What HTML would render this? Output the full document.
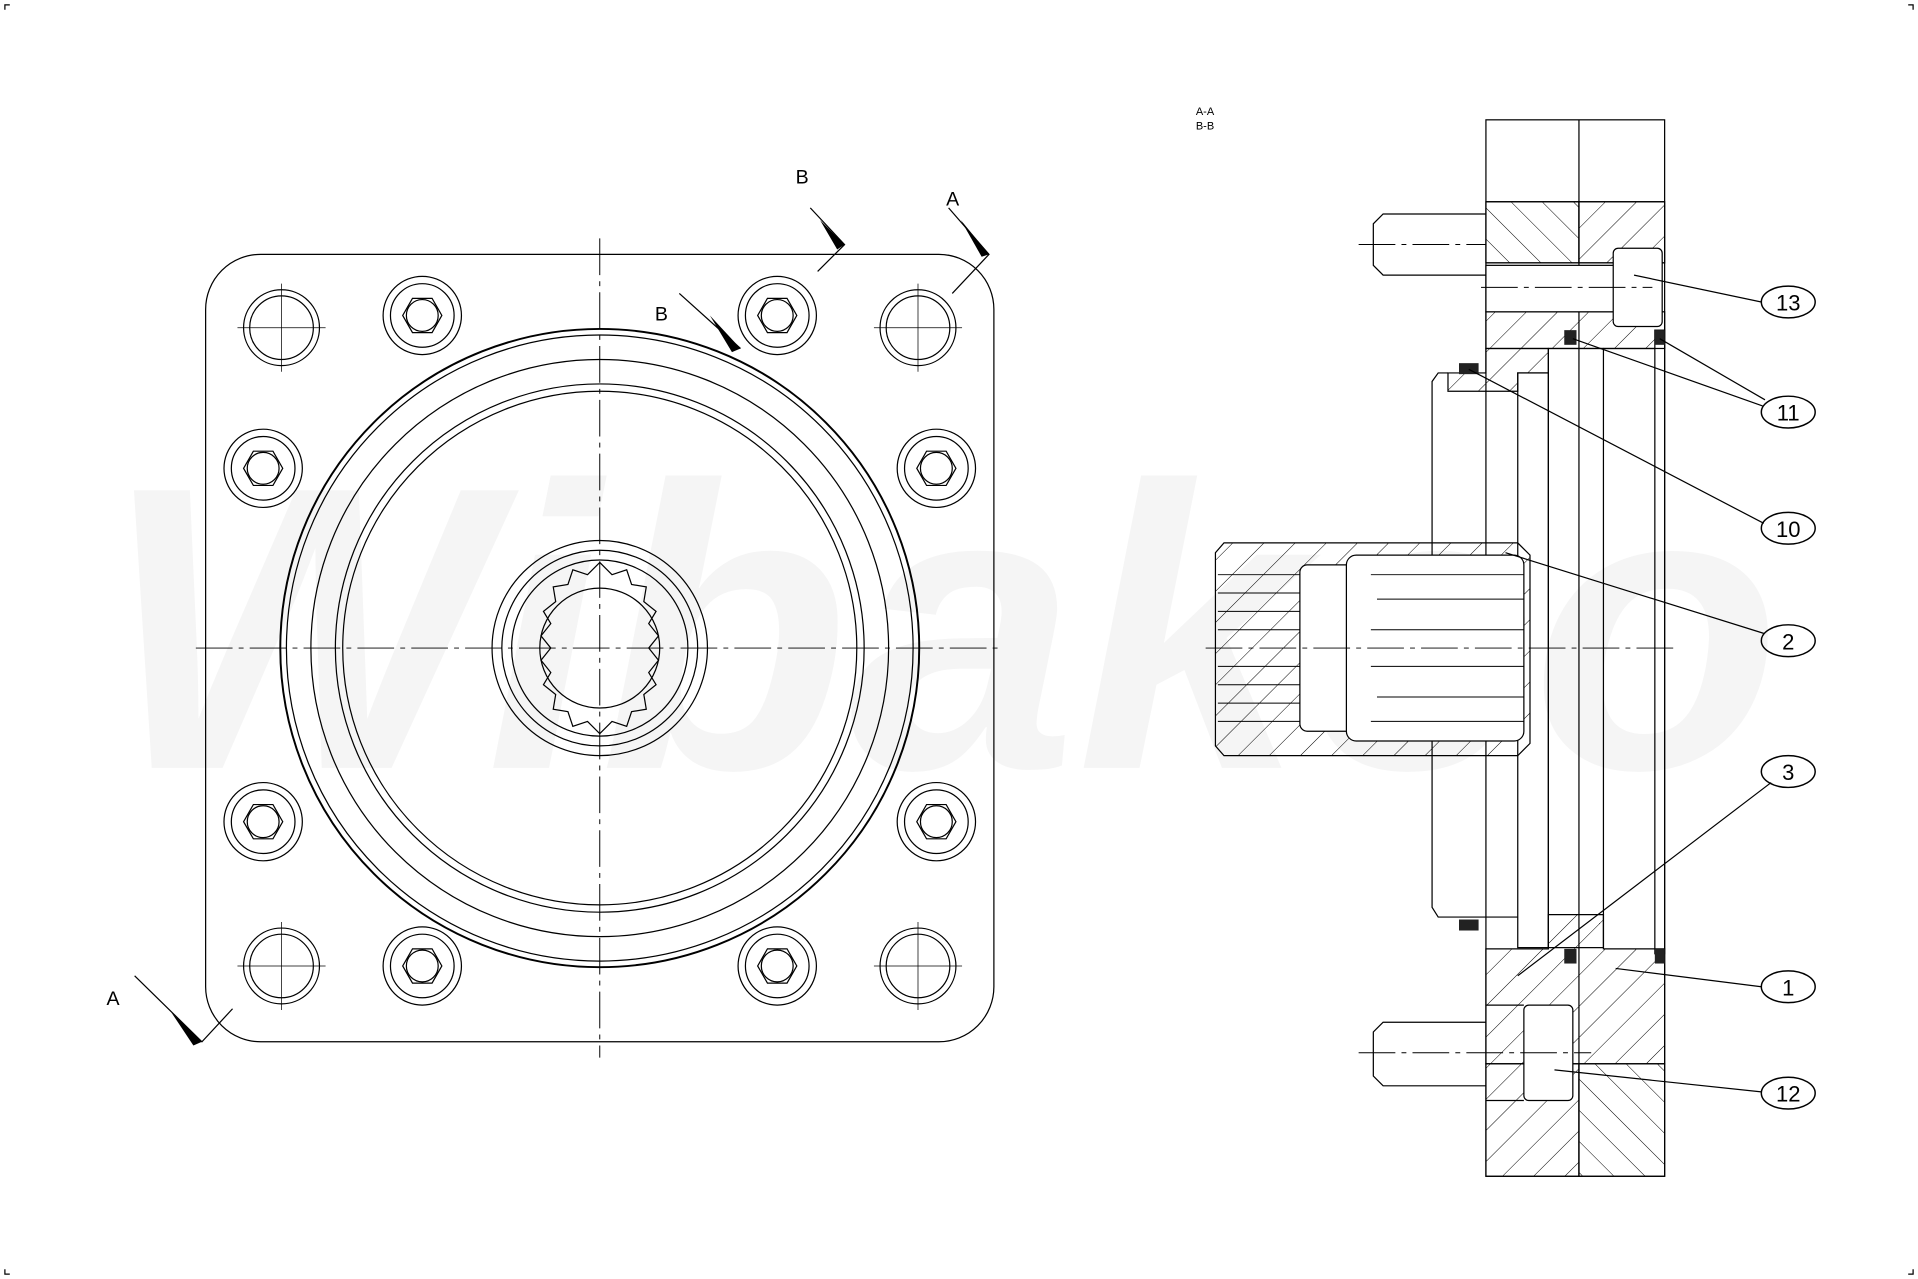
<!DOCTYPE html>
<html><head><meta charset="utf-8"><style>html,body{margin:0;padding:0;background:#fff}svg{display:block}</style></head>
<body>
<svg width="1918" height="1279" viewBox="0 0 1567 1046" preserveAspectRatio="none" xmlns="http://www.w3.org/2000/svg" font-family="Liberation Sans, sans-serif">
<defs>
<pattern id="h1" width="18" height="18" patternUnits="userSpaceOnUse" patternTransform="rotate(45)"><line x1="0" y1="0" x2="0" y2="18" stroke="#000" stroke-width="0.8"/></pattern>
<pattern id="h2" width="18" height="18" patternUnits="userSpaceOnUse" patternTransform="rotate(-45)"><line x1="0" y1="0" x2="0" y2="18" stroke="#000" stroke-width="0.8"/></pattern>
<g id="bolt"><circle r="32" fill="none" stroke="#000"/><circle r="26" fill="none" stroke="#000"/><polygon points="16,0 8,14 -8,14 -16,0 -8,-14 8,-14" fill="none" stroke="#000"/><circle r="13" fill="none" stroke="#000"/></g>
<g id="hole"><circle r="31" fill="none" stroke="#000"/><circle r="26" fill="none" stroke="#000"/><line x1="-36" y1="0" x2="36" y2="0" stroke="#000" stroke-width="0.6"/><line x1="0" y1="-36" x2="0" y2="36" stroke="#000" stroke-width="0.6"/></g>
</defs>
<rect width="1567" height="1046" fill="#fff"/>
<!-- watermark -->
<text x="85" y="628" font-size="330" font-weight="bold" font-style="italic" fill="#f5f5f5" textLength="1370" lengthAdjust="spacingAndGlyphs">Wibakco</text>
<!-- corner marks -->
<path d="M4 8V4h4M1563 8V4h-4M4 1038v4h4M1563 1038v4h-4" stroke="#000" fill="none"/>
<g stroke="#000" fill="none" stroke-width="1">
<rect x="168" y="208" width="644" height="644" rx="45"/>
<circle cx="490" cy="530" r="261" stroke-width="1.6"/>
<circle cx="490" cy="530" r="256"/>
<circle cx="490" cy="530" r="236"/>
<circle cx="490" cy="530" r="216"/>
<circle cx="490" cy="530" r="210"/>
<circle cx="490" cy="530" r="88"/>
<circle cx="490" cy="530" r="80"/>
<circle cx="490" cy="530" r="72"/>
<circle cx="490" cy="530" r="49"/>
<polygon points="490,460 500,470 512,466 516,478 528,480 526,492 536,500 530,510 538,520 530,530 538,540 530,550 536,560 526,568 528,580 516,582 512,594 500,590 490,600 480,590 468,594 464,582 452,580 454,568 444,560 450,550 442,540 450,530 442,520 450,510 444,500 454,492 452,480 464,478 468,466 480,470"/>
<g stroke-dasharray="30 5 4 5" stroke-width="0.8"><line x1="160" y1="530" x2="820" y2="530"/><line x1="490" y1="195" x2="490" y2="865"/></g>
</g>
<use href="#hole" x="230" y="268"/><use href="#bolt" x="345" y="258"/><use href="#bolt" x="635" y="258"/><use href="#hole" x="750" y="268"/>
<use href="#bolt" x="215" y="383"/><use href="#bolt" x="765" y="383"/><use href="#bolt" x="215" y="672"/><use href="#bolt" x="765" y="672"/>
<use href="#hole" x="230" y="790"/><use href="#bolt" x="345" y="790"/><use href="#bolt" x="635" y="790"/><use href="#hole" x="750" y="790"/>
<g stroke="#000" fill="none">
<path d="M662 170 L690 200 L668 222"/><path d="M775 170 L808 208 L778 240"/><path d="M555 240 L605 285"/><path d="M110 798 L165 852 L190 825"/>
</g>
<g fill="#000"><polygon points="670,180 690,200 684,204"/><polygon points="785,180 808,208 802,210"/><polygon points="580,258 605,285 598,288"/><polygon points="140,828 165,852 158,855"/></g>
<g font-size="16" fill="#000"><text x="650" y="150">B</text><text x="773" y="168">A</text><text x="535" y="262">B</text><text x="87" y="822">A</text>
<text x="977" y="94" font-size="9">A-A</text><text x="977" y="106" font-size="9">B-B</text></g>
<g stroke="#000" fill="none">
<rect x="1214" y="165" width="76" height="50" fill="url(#h2)"/>
<rect x="1290" y="165" width="70" height="50" fill="url(#h1)"/>
<rect x="1214" y="255" width="146" height="30" fill="url(#h1)"/>
<path d="M1214 285 H1265 V305 H1240 V320 H1183 V305 H1214Z" fill="url(#h1)"/>
<path d="M1214 776 H1265 V748 H1310 V776 H1360 V870 H1214Z" fill="url(#h1)"/>
<rect x="1214" y="870" width="76" height="92" fill="url(#h1)"/>
<rect x="1290" y="870" width="70" height="92" fill="url(#h2)"/>
<rect x="1214" y="98" width="146" height="864"/>
<line x1="1290" y1="98" x2="1290" y2="962"/>
<line x1="1214" y1="165" x2="1360" y2="165"/><line x1="1214" y1="215" x2="1360" y2="215"/>
<rect x="1214" y="217" width="115" height="38" fill="#fff"/>
<rect x="1318" y="203" width="40" height="64" rx="4" fill="#fff"/>
<rect x="1245" y="822" width="40" height="78" rx="4" fill="#fff"/>
<line x1="1214" y1="822" x2="1245" y2="822"/><line x1="1214" y1="900" x2="1245" y2="900"/>
<path d="M1214 175 H1130 L1122 183 V217 L1130 225 H1214"/>
<path d="M1214 836 H1130 L1122 844 V880 L1130 888 H1214"/>
<path d="M1183 305 H1175 L1170 312 V742 L1175 750 H1240"/>
<rect x="1240" y="305" width="25" height="470"/>
<rect x="1265" y="285" width="45" height="490"/>
<line x1="1310" y1="285" x2="1352" y2="285"/><rect x="1352" y="270" width="8" height="510"/>
<path d="M1000 444 H1240 L1250 454 V608 L1240 618 H1000 L993 610 V452Z" fill="url(#h1)"/>
<rect x="1062" y="462" width="50" height="136" rx="6" fill="#fff"/>
<rect x="1100" y="454" width="145" height="152" rx="8" fill="#fff"/>
<g stroke-width="0.8">
<line x1="995" y1="470" x2="1062" y2="470"/><line x1="995" y1="485" x2="1062" y2="485"/><line x1="995" y1="500" x2="1062" y2="500"/><line x1="995" y1="515" x2="1062" y2="515"/><line x1="995" y1="545" x2="1062" y2="545"/><line x1="995" y1="560" x2="1062" y2="560"/><line x1="995" y1="575" x2="1062" y2="575"/><line x1="995" y1="590" x2="1062" y2="590"/>
<path d="M1120 470 H1245 M1125 490 H1245 M1120 515 H1245 M1120 545 H1245 M1125 570 H1245 M1120 590 H1245"/>
</g>
<g stroke-dasharray="30 5 4 5" stroke-width="0.8"><line x1="985" y1="530" x2="1370" y2="530"/><line x1="1110" y1="200" x2="1214" y2="200"/><line x1="1210" y1="235" x2="1350" y2="235"/><line x1="1110" y1="861" x2="1300" y2="861"/></g>
</g>
<g fill="#222"><rect x="1192" y="297" width="16" height="9"/><rect x="1192" y="752" width="16" height="9"/><rect x="1278" y="270" width="10" height="12"/><rect x="1352" y="270" width="8" height="12"/><rect x="1278" y="776" width="10" height="12"/><rect x="1352" y="776" width="8" height="12"/></g>
<g stroke="#000" fill="none">
<line x1="1335" y1="225" x2="1439" y2="247"/>
<line x1="1285" y1="277" x2="1440" y2="332"/><line x1="1356" y1="277" x2="1442" y2="327"/>
<line x1="1200" y1="302" x2="1441" y2="428"/>
<line x1="1230" y1="452" x2="1441" y2="518"/>
<line x1="1240" y1="798" x2="1447" y2="640"/>
<line x1="1320" y1="792" x2="1439" y2="807"/>
<line x1="1270" y1="875" x2="1439" y2="893"/>
<g stroke-width="1.2"><ellipse cx="1461" cy="247" rx="22" ry="13"/><ellipse cx="1461" cy="337" rx="22" ry="13"/><ellipse cx="1461" cy="432" rx="22" ry="13"/><ellipse cx="1461" cy="524" rx="22" ry="13"/><ellipse cx="1461" cy="631" rx="22" ry="13"/><ellipse cx="1461" cy="807" rx="22" ry="13"/><ellipse cx="1461" cy="894" rx="22" ry="13"/></g>
</g>
<g font-size="18" fill="#000" text-anchor="middle"><text x="1461" y="254">13</text><text x="1461" y="344">11</text><text x="1461" y="439">10</text><text x="1461" y="531">2</text><text x="1461" y="638">3</text><text x="1461" y="814">1</text><text x="1461" y="901">12</text></g>
</svg>
</body></html>
